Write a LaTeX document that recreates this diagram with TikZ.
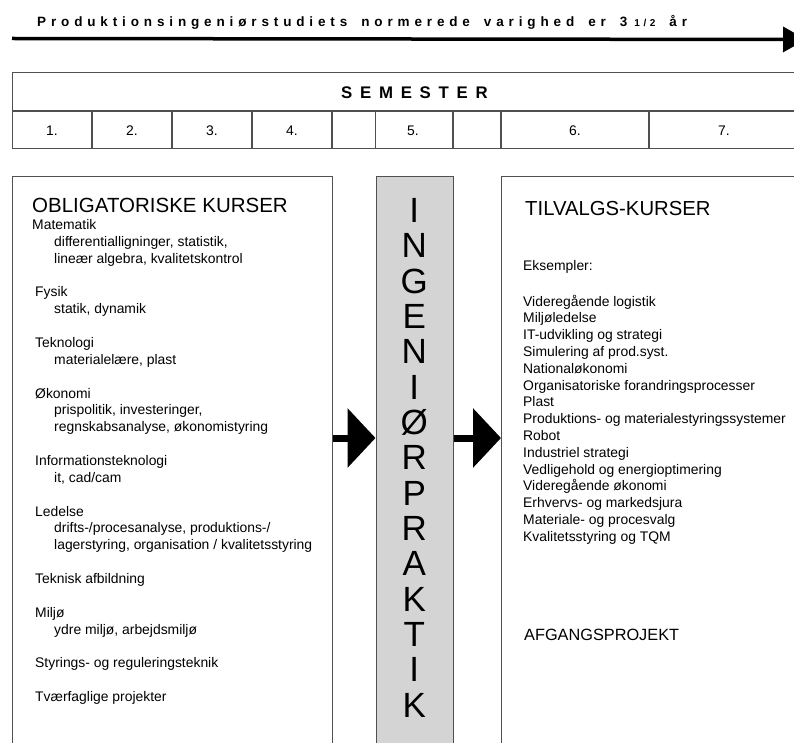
\documentclass[tikz,border=0pt]{standalone}
\usepackage{fontspec}
\setmainfont{Liberation Sans}
\usetikzlibrary{arrows.meta}
\definecolor{lc}{HTML}{505050}
\definecolor{pgray}{HTML}{D4D4D4}
\newcommand\fsz[1]{\fontsize{#1}{#1}\selectfont}
\newcommand\wgap{\hspace*{14pt}}
\begin{document}
\begin{tikzpicture}[x=1pt,y=-1pt,
  boxst/.style={draw=lc, line width=1.2pt, inner sep=0pt, anchor=north west},
  txt/.style={inner sep=0pt, anchor=base west, font=\fsz{13.9}},
  tline/.style={draw=lc, line width=1.2pt},
  bigarr/.style={line width=7pt, -{Triangle[length=28pt,width=58pt]}},
  toparr/.style={line width=3.5pt, -{Triangle[length=23pt,width=25pt]}}]
\useasboundingbox (0,0) rectangle (794,743);
\clip (0,0) rectangle (794,743);
\fill[white] (0,0) rectangle (794,743);

% title and time arrow
\node[inner sep=0pt, anchor=base west, font=\fsz{13.5}\bfseries\addfontfeatures{LetterSpace=36}] (title) at (37,26.3)
  {Produktionsingeniørstudiets\wgap normerede\wgap varighed\wgap er\wgap 3\hspace*{7pt}{\fsz{10}1/2}\wgap år};
\coordinate (ts) at (12,38.5);
\coordinate (te) at (806,39.5);
\draw[toparr] (ts) -- (te);

% semester table
\node[boxst, minimum width=830pt, minimum height=76pt] (sem) at (12,72) {};
\draw[tline] (sem.west |- 0,111) -- (sem.east |- 0,111);
\foreach \x in {92,172,252,332,375.5,453,501,649}
  \draw[tline] (\x,111) -- (\x,148);
\node[inner sep=0pt, anchor=base west, font=\fsz{16.8}\bfseries\addfontfeatures{LetterSpace=46}] (semt) at (341,99) {SEMESTER};
\foreach \x/\t [count=\i] in {52/1.,132/2.,212/3.,292/4.,413/5.,575/6.,724/7.}
  \node[inner sep=0pt, anchor=base, font=\fsz{13.9}] (c\i) at (\x,136) {\t};

% boxes
\node[boxst, minimum width=320pt, minimum height=600pt] (lbox) at (12,176) {};
\node[boxst, fill=pgray, minimum width=77.5pt, minimum height=600pt] (prak) at (375.5,176) {};
\node[boxst, minimum width=320pt, minimum height=600pt] (rbox) at (501,176) {};

% left box text
\node[inner sep=0pt, anchor=base west, font=\fsz{20.5}] (lhead) at (32,213) {OBLIGATORISKE KURSER};
\foreach \n/\x/\t in {0/32/Matematik,
  1/54/{differentialligninger, statistik,},
  2/54/{lineær algebra, kvalitetskontrol},
  4/35/Fysik,
  5/54/{statik, dynamik},
  7/35/Teknologi,
  8/54/{materialelære, plast},
  10/35/Økonomi,
  11/54/{prispolitik, investeringer,},
  12/54/{regnskabsanalyse, økonomistyring},
  14/35/Informationsteknologi,
  15/54/{it, cad/cam},
  17/35/Ledelse,
  18/54/{drifts-/procesanalyse, produktions-/},
  19/54/{lagerstyring, organisation / kvalitetsstyring},
  21/35/{Teknisk afbildning},
  23/35/Miljø,
  24/54/{ydre miljø, arbejdsmiljø},
  26/35/{Styrings- og reguleringsteknik},
  28/35/{Tværfaglige projekter}}
  \node[txt] (l\n) at (\x,{229.5+\n*16.86}) {\t};

% vertical word
\foreach \l [count=\i from 0] in {I,N,G,E,N,I,Ø,R,P,R,A,K,T,I,K}
  \node[inner sep=0pt, anchor=base, font=\fsz{35}] (v\i) at (414.25,{222.5+\i*35.33}) {\l};

% right box text
\node[inner sep=0pt, anchor=base west, font=\fsz{20.3}] (rhead) at (525,215.5) {TILVALGS-KURSER};
\node[txt] (eks) at (523,270.5) {Eksempler:};
\foreach \t [count=\i from 0] in {Videregående logistik, Miljøledelse, IT-udvikling og strategi,
  Simulering af prod.syst., Nationaløkonomi, Organisatoriske forandringsprocesser, Plast,
  Produktions- og materialestyringssystemer, Robot, Industriel strategi,
  Vedligehold og energioptimering, Videregående økonomi, Erhvervs- og markedsjura,
  Materiale- og procesvalg, Kvalitetsstyring og TQM}
  \node[txt] (r\i) at (523,{306+\i*16.8}) {\t};
\node[inner sep=0pt, anchor=base west, font=\fsz{16.3}] (afg) at (524,640.8) {AFGANGSPROJEKT};

% big arrows
\coordinate (ay) at (0,438);
\draw[bigarr] (lbox.east |- ay) -- (prak.west |- ay);
\draw[bigarr] (prak.east |- ay) -- (rbox.west |- ay);
\end{tikzpicture}
\end{document}
